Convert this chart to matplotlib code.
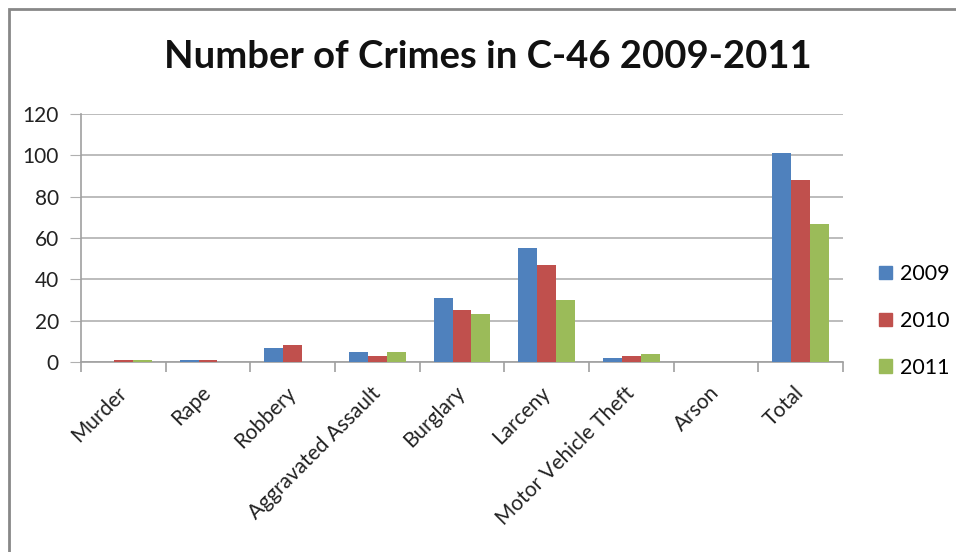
import matplotlib
matplotlib.use('Agg')
import matplotlib.pyplot as plt
import numpy as np
from matplotlib.patches import Rectangle, Patch

plt.rcParams['font.family'] = ['Lato', 'DejaVu Sans']

categories = ['Murder', 'Rape', 'Robbery', 'Aggravated Assault', 'Burglary',
              'Larceny', 'Motor Vehicle Theft', 'Arson', 'Total']
years = ['2009', '2010', '2011']
crimes_2009 = [0, 1, 7, 5, 31, 55, 2, 0, 101]
crimes_2010 = [1, 1, 8, 3, 25, 47, 3, 0, 88]
crimes_2011 = [1, 0, 0, 5, 23, 30, 4, 0, 67]
yticks = [0, 20, 40, 60, 80, 100, 120]

colors = ['#4F81BD', '#C0504D', '#9BBB59']
W, H = 956, 552

fig = plt.figure(figsize=(W / 100, H / 100), dpi=100)
# outer chart frame
fig.patches.append(Rectangle((9 / W, -0.1), 1.2, 1 - 9 / H + 0.1, transform=fig.transFigure,
                             fill=False, edgecolor='#888888', linewidth=2))

ax = fig.add_axes([81 / W, (H - 362) / H, (843 - 81) / W, (362 - 114) / H])

x = np.arange(len(categories))
bw = 1 / 4.5
series = [crimes_2009, crimes_2010, crimes_2011]
for i, vals in enumerate(series):
    ax.bar(x + (i - 1) * bw, vals, width=bw, color=colors[i], label=years[i], zorder=3)

ax.set_xlim(-0.5, len(categories) - 0.5)
ax.set_ylim(0, 120)
ax.set_yticks(yticks)
ax.yaxis.grid(True, color='#B0B0B0', linewidth=1.2, zorder=0)
ax.tick_params(axis='y', length=8, color='#B0B0B0', labelsize=15, pad=8)
for lbl in ax.get_yticklabels():
    lbl.set_color('#222222')

ax.set_xticks(np.arange(len(categories) + 1) - 0.5, minor=False)
ax.set_xticklabels([])
ax.set_xticks(x, minor=True)
ax.set_xticklabels(categories, minor=True, rotation=45, ha='right', va='center',
                   rotation_mode='anchor', fontsize=15, color='#222222')
ax.tick_params(axis='x', which='major', length=7, color='#A0A0A0', width=1.2)
ax.tick_params(axis='x', which='minor', length=0, pad=20)

for side in ['top', 'right']:
    ax.spines[side].set_visible(False)
ax.spines['left'].set_color('#A0A0A0')
ax.spines['bottom'].set_color('#A0A0A0')
ax.spines['left'].set_linewidth(1.2)
ax.spines['bottom'].set_linewidth(1.2)

fig.text(488 / W, 1 - 57 / H, 'Number of Crimes in C-46 2009-2011', ha='center', va='center',
         fontsize=27.5, fontweight='bold', color='#111111')

handles = [Patch(color=c) for c in colors]
fig.legend(handles, years, loc='center left', bbox_to_anchor=(860 / W, 1 - 321 / H),
           frameon=False, fontsize=15.5, handlelength=0.6, handleheight=0.6,
           handletextpad=0.35, labelspacing=1.25)

fig.savefig('out.png', dpi=100)
